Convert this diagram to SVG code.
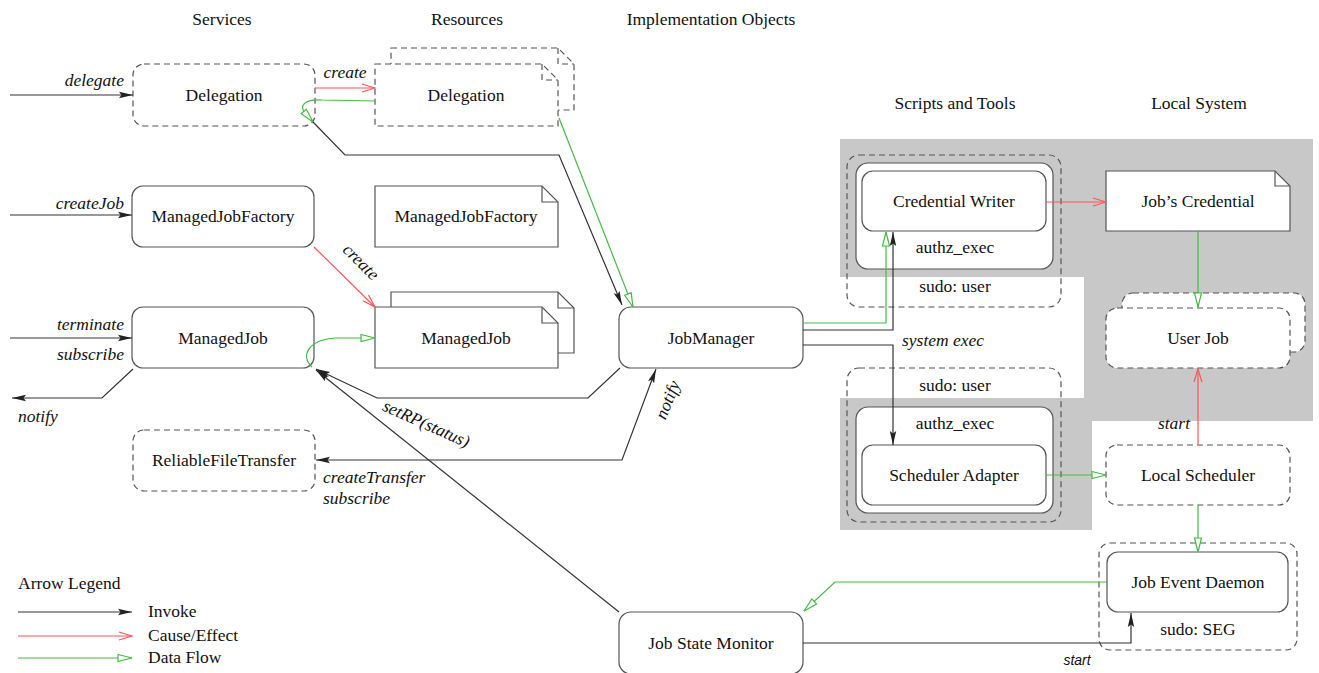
<svg xmlns="http://www.w3.org/2000/svg" width="1319" height="673" viewBox="0 0 1319 673">
  <style>
    .box { fill: #fff; stroke: #555; stroke-width: 1.2; }
    .open { fill: none; stroke: #555; stroke-width: 1.2; }
    .dash { stroke-dasharray: 6 4; }
    .t { font-family: "Liberation Serif", "DejaVu Serif", serif; font-size: 17.5px; fill: #111; text-anchor: middle; }
    .l { text-anchor: start; }
    .e { text-anchor: end; }
    .i { font-style: italic; }
    .inv { fill: none; stroke: #333; stroke-width: 1.2; }
    .cause { fill: none; stroke: #f55; stroke-width: 1.2; }
    .flow { fill: none; stroke: #4b4; stroke-width: 1.2; }
  </style>
  <defs>
    <marker id="mInv" markerUnits="userSpaceOnUse" markerWidth="14" markerHeight="8" viewBox="0 0 14 8" refX="14" refY="4" orient="auto-start-reverse">
      <path d="M0,0.8 L14,4 L0,7.2 L2.5,4 Z" fill="#222"/>
    </marker>
    <marker id="mCause" markerUnits="userSpaceOnUse" markerWidth="15" markerHeight="10" viewBox="0 0 15 10" refX="14" refY="5" orient="auto">
      <path d="M1,1 L14,5 L1,9" fill="none" stroke="#f55" stroke-width="1.2"/>
    </marker>
    <marker id="mFlow" markerUnits="userSpaceOnUse" markerWidth="16" markerHeight="10" viewBox="0 0 16 10" refX="15" refY="5" orient="auto">
      <path d="M1,1.5 L15,5 L1,8.5 Z" fill="#fff" stroke="#4b4" stroke-width="1.2"/>
    </marker>
  </defs>

  <rect width="1319" height="673" fill="#fff"/>

  <!-- shaded privilege region -->
  <polygon points="840,139 1313,139 1313,421 1092,421 1092,530 840,530 840,398 1084,398 1084,277 840,277" fill="#c8c8c8"/>

  <!-- column headers -->
  <g id="headers">
    <text class="t" x="222" y="25">Services</text>
    <text class="t" x="467" y="25">Resources</text>
    <text class="t" x="711" y="25">Implementation Objects</text>
    <text class="t" x="955" y="109">Scripts and Tools</text>
    <text class="t" x="1199" y="109">Local System</text>
  </g>

  <!-- services -->
  <g id="svc-delegation">
    <rect class="box dash" x="133" y="64" width="182" height="62" rx="11"/>
    <text class="t" x="224" y="101">Delegation</text>
  </g>
  <g id="svc-mjf">
    <rect class="box" x="132" y="186" width="182" height="61" rx="11"/>
    <text class="t" x="223" y="222">ManagedJobFactory</text>
  </g>
  <g id="svc-mj">
    <rect class="box" x="132" y="307" width="182" height="61" rx="11"/>
    <text class="t" x="223" y="344">ManagedJob</text>
  </g>
  <g id="svc-rft">
    <rect class="box dash" x="133" y="430" width="182" height="61" rx="11"/>
    <text class="t" x="224" y="466">ReliableFileTransfer</text>
  </g>

  <!-- resources -->
  <g id="res-delegation">
    <path class="box dash" d="M391,48 H558 L574,64 V110 H391 Z"/>
    <path class="open dash" d="M558,48 V64 H574"/>
    <path class="box dash" d="M375,64 H542 L558,80 V126 H375 Z"/>
    <path class="open dash" d="M542,64 V80 H558"/>
    <text class="t" x="466" y="101">Delegation</text>
  </g>
  <g id="res-mjf">
    <path class="box" d="M375,186 H542 L558,202 V247 H375 Z"/>
    <path class="open" d="M542,186 V202 H558"/>
    <text class="t" x="466" y="222">ManagedJobFactory</text>
  </g>
  <g id="res-mj">
    <path class="box" d="M391,292 H558 L574,308 V353 H391 Z"/>
    <path class="open" d="M558,292 V308 H574"/>
    <path class="box" d="M375,307 H542 L558,323 V368 H375 Z"/>
    <path class="open" d="M542,307 V323 H558"/>
    <text class="t" x="466" y="344">ManagedJob</text>
  </g>

  <!-- implementation objects -->
  <g id="jobmanager">
    <rect class="box" x="619" y="307" width="184" height="61" rx="12"/>
    <text class="t" x="711" y="344">JobManager</text>
  </g>
  <g id="jobstatemonitor">
    <rect class="box" x="619" y="612" width="184" height="62" rx="12"/>
    <text class="t" x="711" y="649">Job State Monitor</text>
  </g>

  <!-- scripts and tools -->
  <g id="credential-writer">
    <rect class="open dash" x="847" y="155" width="214" height="152" rx="12"/>
    <rect class="box" x="856" y="163" width="197" height="106" rx="12"/>
    <rect class="box" x="862" y="171" width="184" height="60" rx="11"/>
    <text class="t" x="954" y="207">Credential Writer</text>
    <text class="t" x="955" y="253">authz_exec</text>
    <text class="t" x="955" y="292">sudo: user</text>
  </g>
  <g id="scheduler-adapter">
    <rect class="open dash" x="847" y="368" width="214" height="154" rx="12"/>
    <rect class="box" x="856" y="407" width="197" height="106" rx="12"/>
    <rect class="box" x="862" y="445" width="184" height="60" rx="11"/>
    <text class="t" x="954" y="481">Scheduler Adapter</text>
    <text class="t" x="955" y="429">authz_exec</text>
    <text class="t" x="955" y="391">sudo: user</text>
  </g>

  <!-- local system -->
  <g id="job-credential">
    <path class="box" d="M1106,171 H1275 L1290,186 V231 H1106 Z"/>
    <path class="open" d="M1275,171 V186 H1290"/>
    <text class="t" x="1198" y="207">Job’s Credential</text>
  </g>
  <g id="user-job">
    <rect class="box dash" x="1122" y="293" width="183" height="59" rx="11"/>
    <rect class="box dash" x="1106" y="308" width="184" height="60" rx="11"/>
    <text class="t" x="1198" y="344">User Job</text>
  </g>
  <g id="local-scheduler">
    <rect class="box dash" x="1106" y="445" width="184" height="60" rx="11"/>
    <text class="t" x="1198" y="481">Local Scheduler</text>
  </g>
  <g id="job-event-daemon">
    <rect class="open dash" x="1099" y="543" width="198" height="107" rx="11"/>
    <rect class="box" x="1107" y="552" width="181" height="60" rx="11"/>
    <text class="t" x="1198" y="588">Job Event Daemon</text>
    <text class="t" x="1198" y="635">sudo: SEG</text>
  </g>

  <!-- connectors -->
  <g id="connectors">
    <path class="inv" d="M10,95 H133" marker-end="url(#mInv)"/>
    <path class="inv" d="M10,215 H132" marker-end="url(#mInv)"/>
    <path class="inv" d="M10,338 H132" marker-end="url(#mInv)"/>
    <path class="inv" d="M133,369 L102,398 H12" marker-end="url(#mInv)"/>

    <path class="cause" d="M315,88 H375" marker-end="url(#mCause)"/>
    <path class="cause" d="M314,247 L375,307" marker-end="url(#mCause)"/>

    <path class="inv" d="M313,122 L345,155 H559 L622,305" marker-end="url(#mInv)"/>
    <path class="flow" d="M559,118 L633,307" marker-end="url(#mFlow)"/>
    <path class="flow" d="M375,101 L322,100 C304,99 298,106 306,114 L313,122" marker-end="url(#mFlow)"/>
    <path class="flow" d="M312,367 C300,356 308,340 335,338 L375,338" marker-end="url(#mFlow)"/>

    <path class="inv" d="M620,368 L588,398 H377 L316,369" marker-end="url(#mInv)"/>
    <path class="inv" d="M619,612 L316,370" marker-end="url(#mInv)"/>
    <path class="inv" d="M316,460 H622 L656,369" marker-start="url(#mInv)" marker-end="url(#mInv)"/>

    <path class="flow" d="M803,323 H886 V232" marker-end="url(#mFlow)"/>
    <path class="inv" d="M803,330 H893 V232" marker-end="url(#mInv)"/>
    <path class="inv" d="M803,345 H893 V445" marker-end="url(#mInv)"/>

    <path class="cause" d="M1046,202 H1106" marker-end="url(#mCause)"/>
    <path class="flow" d="M1198,231 V307" marker-end="url(#mFlow)"/>
    <path class="cause" d="M1198,445 V369" marker-end="url(#mCause)"/>
    <path class="flow" d="M1046,475 H1106" marker-end="url(#mFlow)"/>
    <path class="flow" d="M1198,505 V552" marker-end="url(#mFlow)"/>
    <path class="flow" d="M1107,582 H835 L804,611" marker-end="url(#mFlow)"/>
    <path class="inv" d="M803,643 H1131 V613" marker-end="url(#mInv)"/>

    <!-- connector labels -->
    <text class="t i e" x="124" y="86">delegate</text>
    <text class="t i e" x="124" y="209">createJob</text>
    <text class="t i e" x="124" y="330">terminate</text>
    <text class="t i e" x="124" y="360">subscribe</text>
    <text class="t i l" x="18" y="422">notify</text>
    <text class="t i" x="345" y="78">create</text>
    <text class="t i" transform="translate(357,266) rotate(45)">create</text>
    <text class="t i" transform="translate(424,429) rotate(24)">setRP(status)</text>
    <text class="t i" transform="translate(673,402) rotate(-68)">notify</text>
    <text class="t i l" x="323" y="483">createTransfer</text>
    <text class="t i l" x="323" y="504">subscribe</text>
    <text class="t i l" x="902" y="346">system exec</text>
    <text class="t i" x="1174" y="429">start</text>
    <text class="i" x="1077" y="665" font-family="Liberation Sans, sans-serif" font-size="14" text-anchor="middle" fill="#111">start</text>
  </g>

  <!-- legend -->
  <g id="legend">
    <text class="t l" x="18" y="589">Arrow Legend</text>
    <path class="inv" d="M18,612 H132" marker-end="url(#mInv)"/>
    <path class="cause" d="M18,636 H132" marker-end="url(#mCause)"/>
    <path class="flow" d="M18,658 H132" marker-end="url(#mFlow)"/>
    <text class="t l" x="148" y="617">Invoke</text>
    <text class="t l" x="148" y="641">Cause/Effect</text>
    <text class="t l" x="148" y="663">Data Flow</text>
  </g>
</svg>
